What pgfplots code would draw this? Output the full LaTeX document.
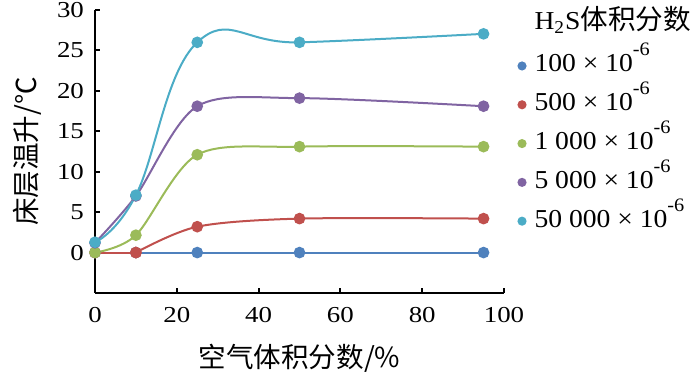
\documentclass[border=0pt]{standalone}
\usepackage{fontspec}
\setmainfont[FakeStretch=1.18]{Liberation Serif}
\newfontfamily\legfont[FakeStretch=1.07]{Liberation Serif}
\newfontfamily\cjk{Noto Sans CJK SC}
\usepackage{pgfplots}
\pgfplotsset{compat=1.18}
\definecolor{cA}{HTML}{4F81BD}
\definecolor{cB}{HTML}{C0504D}
\definecolor{cC}{HTML}{9BBB59}
\definecolor{cD}{HTML}{8064A2}
\definecolor{cE}{HTML}{4BACC6}
\newcommand{\supsix}{\raisebox{8pt}{\fontsize{9.5}{10}\selectfont -6}}
\begin{document}
\begin{tikzpicture}
\begin{axis}[
  scale only axis, width=204.5pt, height=141.5pt,
  xmin=0, xmax=100, ymin=-5, ymax=30,
  axis x line*=bottom, axis y line*=left,
  xtick={0,20,...,100}, ytick={0,5,...,30},
  tick align=inside, major tick length=2.5pt,
  tick style={black, line width=1pt},
  axis line style={black, line width=1pt},
  /pgf/number format/assume math mode=true,
  tick label style={font=\fontsize{11.4}{13}\selectfont},
  xticklabel style={yshift=-3.5pt},
  yticklabel style={xshift=-2pt},
  xlabel={\cjk 空气体积分数/\%},
  ylabel={\cjk 床层温升/℃},
  x label style={at={(axis description cs:0.5,-0.23)}, anchor=center, font=\fontsize{13.8}{15}\selectfont},
  y label style={at={(axis description cs:-0.166,0.5)}, anchor=center, font=\fontsize{13.8}{15}\selectfont},
  legend style={at={(axis description cs:1.0355,0.993)}, anchor=north west, draw=none, fill=none,
    inner sep=0pt, outer sep=0pt,
    font=\legfont\fontsize{12.9}{15}\selectfont, nodes={inner sep=0pt, outer sep=0pt, text height=9pt, text depth=3pt},
    row sep=7.4pt, column sep=4.5pt},
  legend cell align=left,
  legend image code/.code={\draw[mark size=1.75pt] plot coordinates {(0cm,0cm)};},
  every axis plot/.append style={line width=1pt, mark=*, mark size=2.4pt, mark options={solid}},
]
\coordinate (bl) at (rel axis cs:0,0);
\addlegendimage{empty legend}
\addlegendentry[text depth=4.6pt]{H\textsubscript{2}S{\cjk\fontsize{13.8}{15}\selectfont 体积分数}}
\addplot[color=cA] coordinates {(0,0) (10,0) (25,0) (50,0) (95,0)};
\addlegendentry{100 × 10\supsix}
\addplot[color=cB, forget plot] coordinates {(0,0) (10,0)};
\addplot[color=cB, smooth] coordinates {(10,0) (25,3.2) (50,4.2) (95,4.2)};
\addlegendentry{500 × 10\supsix}
\addplot[color=cC, smooth] coordinates {(0,0) (10,2.15) (25,12.1) (50,13.1) (95,13.1)};
\addlegendentry{1 000 × 10\supsix}
\addplot[color=cD, smooth] coordinates {(0,1.2) (10,7.0) (25,18.1) (50,19.1) (95,18.1)};
\addlegendentry{5 000 × 10\supsix}
\addplot[color=cE, smooth, tension=0.7] coordinates {(0,1.28) (10,7.1) (25,26.0) (50,26.0) (95,27.05)};
\addlegendentry{50 000 × 10\supsix}
\end{axis}
\pgfresetboundingbox
\path (bl) ++(-47.5pt,-42.5pt) rectangle ++(350pt,189pt);
\end{tikzpicture}
\end{document}
